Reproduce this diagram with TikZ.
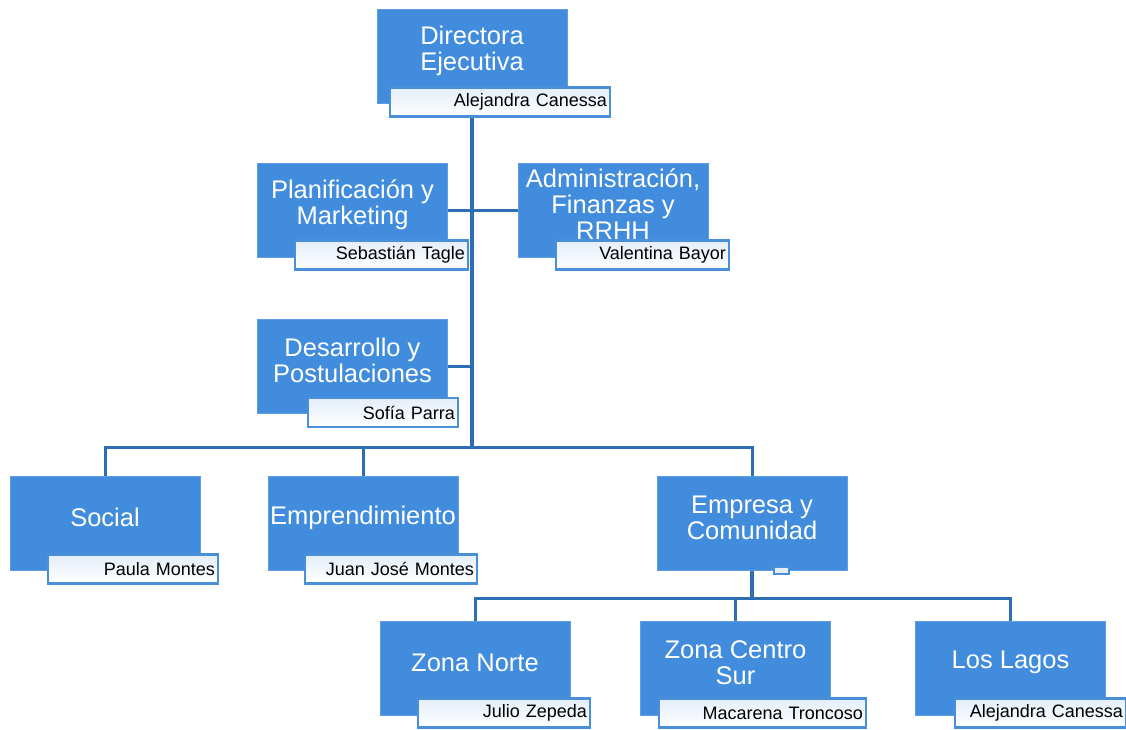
\documentclass[tikz,border=0pt]{standalone}
\usepackage{fontspec}
\setmainfont{Liberation Sans}
\definecolor{boxblue}{RGB}{65,140,220}
\definecolor{lineblue}{RGB}{46,110,181}
\definecolor{tagblue}{RGB}{74,144,217}
\definecolor{tagtop}{RGB}{228,238,250}

\begin{document}
\begin{tikzpicture}[x=1pt,y=-1pt,area/.style={rectangle, fill=boxblue, draw=boxblue!85!white, line width=1pt, minimum width=190pt, minimum height=94pt},titulo/.style={text=white, align=center, font=\fontsize{25.5}{26}\selectfont, yshift=6pt},persona/.style={rectangle, draw=tagblue, line width=2.5pt, top color=tagtop, bottom color=white, minimum height=29pt, inner xsep=3pt, text width=#1, align=right, font=\fontsize{18}{20}\selectfont},linea/.style={draw=lineblue, line width=3pt}]
\useasboundingbox (0,0) rectangle (1126,730);
% areas
\node[area] (dir) at (472,56.5) {};
\node[titulo] (dirt) at (dir) {Directora\\Ejecutiva};
\node[area] (plan) at (352.5,210.5) {};
\node[titulo] (plant) at (plan) {Planificación y\\Marketing};
\node[area] (adm) at (613,210.5) {};
\node[titulo] (admt) at (adm) {Administración,\\Finanzas y\\RRHH};
\node[area] (des) at (352.5,366.5) {};
\node[titulo] (dest) at (des) {Desarrollo y\\Postulaciones};
\node[area] (soc) at (105,523.5) {};
\node[titulo] (soct) at (soc) {Social};
\node[area] (ent) at (363,523.5) {};
\node[titulo] (entt) at (ent) {Emprendimiento};
\node[area] (emc) at (752,523.5) {};
\node[titulo] (emct) at (emc) {Empresa y\\Comunidad};
\node[area] (zn) at (475,668.5) {};
\node[titulo] (znt) at (zn) {Zona Norte};
\node[area] (zc) at (735.5,668.5) {};
\node[titulo] (zct) at (zc) {Zona Centro\\Sur};
\node[area] (zl) at (1010.5,668.5) {};
\node[titulo] (zlt) at (zl) {Los Lagos};
% personas
\node[persona=214pt] (dirp) at (500,102) {Alejandra Canessa};
\node[persona=167pt] (planp) at (381.5,255) {Sebastián Tagle};
\node[persona=167pt] (admp) at (642.5,255) {Valentina Bayor};
\node[persona=144pt] (desp) at (383,412.5) {Sofía Parra};
\node[persona=164pt] (socp) at (133,569) {Paula Montes};
\node[persona=166pt] (entp) at (391,569) {Juan José Montes};
\node[persona=166pt] (znp) at (504,713) {Julio Zepeda};
\node[persona=201pt] (zcp) at (762.5,713) {Macarena Troncoso};
\node[persona=165pt] (zlp) at (1040.5,713) {Alejandra Canessa};
\node[rectangle, draw=tagblue, line width=2pt, fill=tagtop, minimum width=15pt, minimum height=7pt, inner sep=0pt] (emcp) at (781.5,570) {};
% lineas
\coordinate (hub) at (472,447);
\coordinate (zbar) at (752,598);
\draw[linea, line width=4pt] (dir.south |- dirp.south) -- (hub);
\draw[linea] (plan.east) -- (adm.west);
\draw[linea] (des.east) -- (des.east -| hub);
\draw[linea] (soc.north) |- (hub) -| (emc.north);
\draw[linea] (ent.north) -- (ent.north |- hub);
\draw[linea, line width=4pt] (emc.south) -- (zbar);
\draw[linea] (zn.north) |- (zbar) -| (zl.north);
\draw[linea] (zc.north) -- (zc.north |- zbar);
\end{tikzpicture}
\end{document}
